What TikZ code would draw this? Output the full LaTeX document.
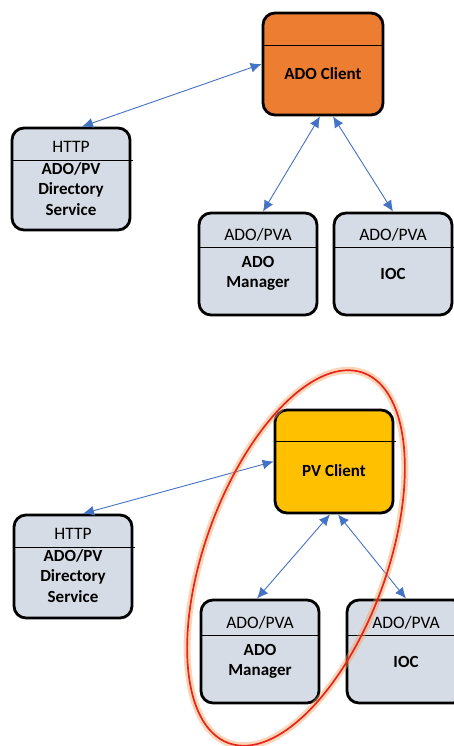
\documentclass[tikz,border=0pt]{standalone}
\usepackage{fontspec}
\setmainfont{Carlito}
\usepackage{tikz}
\usetikzlibrary{arrows.meta,calc}
\definecolor{boxgrey}{HTML}{D6DCE5}
\definecolor{adoorange}{HTML}{ED7D31}
\definecolor{pvgold}{HTML}{FFC000}
\definecolor{arrowblue}{HTML}{4472C4}
\definecolor{ringred}{HTML}{E8231B}
\definecolor{glow}{HTML}{F4A460}

\begin{document}
\begin{tikzpicture}[x=1pt,y=-1pt,
    font=\fontsize{17.5}{20}\selectfont,
    blk/.style={draw=black,line width=2.8pt,rounded corners=12pt,fill=boxgrey,
                minimum width=118pt,minimum height=102pt,inner sep=0pt},
    head/.style={inner sep=0pt,align=center},
    body/.style={inner sep=0pt,align=center,font=\fontsize{17}{20.5}\selectfont\bfseries},
    sep/.style={line width=1.2pt},
    conn/.style={{Latex[length=11pt,width=10pt]}-{Latex[length=11pt,width=10pt]},arrowblue,line width=0.9pt}
  ]
    \useasboundingbox (0,0) rectangle (454,746);
    % ADO side
    \node[blk,fill=adoorange,minimum width=120pt] (acli) at (323,64) {};
    \node[blk] (dir1) at (71,179) {};
    \node[blk] (mgr1) at (258,264) {};
    \node[blk] (ioc1) at (393,264) {};
    \draw[sep] ($(acli.north west)+(0,34)$) -- ($(acli.north east)+(0,34)$);
    \draw[sep] ($(dir1.north west)+(0,34)$) -- ($(dir1.north east)+(2,34)$);
    \draw[sep] ($(mgr1.north west)+(0,36)$) -- ($(mgr1.north east)+(0,36)$);
    \draw[sep] ($(ioc1.north west)+(0,36)$) -- ($(ioc1.north east)+(2,36)$);
    \node[body] (acli-b) at ($(acli.north)+(0,62)$) {ADO Client};
    \node[head] (dir1-h) at ($(dir1.north)+(0,20)$) {HTTP};
    \node[body] (dir1-b) at ($(dir1.north)+(0,62)$) {ADO/PV\\Directory\\Service};
    \node[head] (mgr1-h) at ($(mgr1.north)+(0,23)$) {ADO/PVA};
    \node[body] (mgr1-b) at ($(mgr1.north)+(0,62)$) {ADO\\Manager};
    \node[head] (ioc1-h) at ($(ioc1.north)+(0,23)$) {ADO/PVA};
    \node[body] (ioc1-b) at ($(ioc1.north)+(0,62)$) {IOC};
    \draw[conn] ([xshift=11pt]dir1.north) -- (acli.west);
    \draw[conn] ([xshift=-3pt]acli.south) -- ([xshift=5pt]mgr1.north);
    \draw[conn] ([xshift=10pt]acli.south) -- (ioc1.north);
    % PV side
    \node[blk,fill=pvgold,minimum height=103pt] (pcli) at (334,461.5) {};
    \node[blk,minimum height=103pt] (dir2) at (73,566.5) {};
    \node[blk,minimum height=103pt] (mgr2) at (260,651.5) {};
    \node[blk,minimum height=103pt] (ioc2) at (406,651.5) {};
    \draw[sep] ($(pcli.north west)+(0,33)$) -- ($(pcli.north east)+(2,33)$);
    \draw[sep] ($(dir2.north west)+(0,34)$) -- ($(dir2.north east)+(2,34)$);
    \draw[sep] ($(mgr2.north west)+(0,37)$) -- ($(mgr2.north east)+(0,37)$);
    \draw[sep] ($(ioc2.north west)+(0,37)$) -- ($(ioc2.north east)+(0,37)$);
    \node[body] (pcli-b) at ($(pcli.north)+(0,62)$) {PV Client};
    \node[head] (dir2-h) at ($(dir2.north)+(0,20)$) {HTTP};
    \node[body] (dir2-b) at ($(dir2.north)+(0,62)$) {ADO/PV\\Directory\\Service};
    \node[head] (mgr2-h) at ($(mgr2.north)+(0,24)$) {ADO/PVA};
    \node[body] (mgr2-b) at ($(mgr2.north)+(0,63)$) {ADO\\Manager};
    \node[head] (ioc2-h) at ($(ioc2.north)+(0,24)$) {ADO/PVA};
    \node[body] (ioc2-b) at ($(ioc2.north)+(0,63)$) {IOC};
    \draw[conn] ([xshift=10pt]dir2.north) -- (pcli.west);
    \draw[conn] ([xshift=-4pt]pcli.south) -- ([xshift=-3pt]mgr2.north);
    \draw[conn] ([xshift=4pt]pcli.south) -- (ioc2.north);
    % ring round the PV client and ADO manager
    \draw[glow,opacity=0.45,line width=7pt,rotate around={70:(296,558)}]
      (296,558) ellipse [x radius=197,y radius=91];
    \draw[ringred,line width=1.7pt,rotate around={70:(296,558)}]
      (296,558) ellipse [x radius=197,y radius=91];
  \end{tikzpicture}
\end{document}
